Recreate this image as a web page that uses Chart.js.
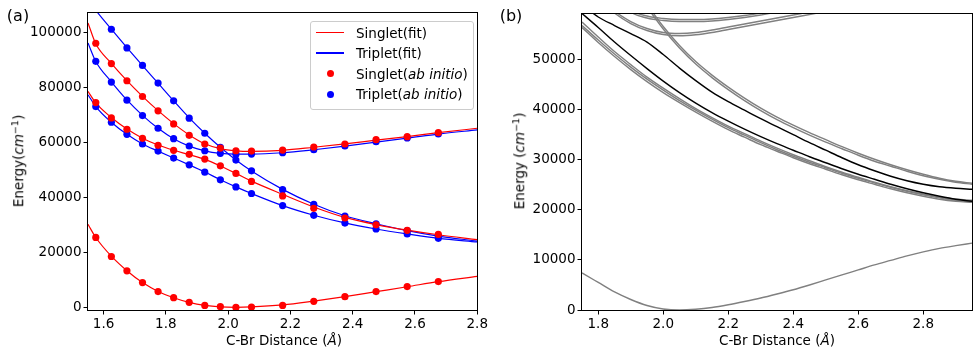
<!DOCTYPE html>
<html>
<head>
<meta charset="utf-8">
<script src="https://cdn.jsdelivr.net/npm/chart.js@4.4.0/dist/chart.umd.min.js"></script>
<style>
  body { margin:0; background:#fff; font-family:'DejaVu Sans', sans-serif; color:#000; }
  #wrap { position:relative; width:974px; height:350px; overflow:hidden; }
  .panel { position:absolute; top:0; height:350px; }
  .lbl { position:absolute; font-size:13.5px; line-height:1; white-space:nowrap; transform:translate(-50%,-50%); }
  .rot { transform:translate(-50%,-50%) rotate(-90deg); }
  .tag { font-size:16px; }
  sup { font-size:9.5px; vertical-align:5px; }
  #legend { position:absolute; left:310px; top:21px; width:162px; height:87px; border:1px solid #ccc; border-radius:3px; background:rgba(255,255,255,0.8); }
  .row { position:absolute; left:0; height:16px; width:100%; font-size:13.5px; line-height:16px; }
  .row .sw { position:absolute; left:5px; top:7px; width:28px; height:1.5px; }
  .row .dot { position:absolute; left:16px; top:4.5px; width:7px; height:7px; border-radius:50%; }
  .row .txt { position:absolute; left:45px; top:0; }
</style>
</head>
<body>
<div id="wrap">
  <div class="panel" style="left:0;width:490px"><canvas id="chart-a"></canvas></div>
  <div class="panel" style="left:490px;width:484px"><canvas id="chart-b"></canvas></div>

  <div class="lbl tag" style="left:18px;top:16px">(a)</div>
  <div class="lbl tag" style="left:511px;top:16px">(b)</div>
  <div class="lbl rot" style="left:18px;top:161px">Energy(<i>cm</i><sup>−1</sup>)</div>
  <div class="lbl rot" style="left:519px;top:161px">Energy (<i>cm</i><sup>−1</sup>)</div>
  <div class="lbl" style="left:284px;top:341px">C-Br Distance (<i>Å</i>)</div>
  <div class="lbl" style="left:777px;top:341px">C-Br Distance (<i>Å</i>)</div>

  <div id="legend">
    <div class="row" style="top:2.7px"><span class="sw" style="background:#ff0000"></span><span class="txt">Singlet(fit)</span></div>
    <div class="row" style="top:23.3px"><span class="sw" style="background:#0000ff"></span><span class="txt">Triplet(fit)</span></div>
    <div class="row" style="top:43.7px"><span class="dot" style="background:#ff0000"></span><span class="txt">Singlet(<i>ab initio</i>)</span></div>
    <div class="row" style="top:64.3px"><span class="dot" style="background:#0000ff"></span><span class="txt">Triplet(<i>ab initio</i>)</span></div>
  </div>
</div>

<script>
// ---- panel (a): fitted curves and ab initio points ----
const A_X     = [1.575,1.625,1.675,1.725,1.775,1.825,1.875,1.925,1.975,2.025,2.075,2.175,2.275,2.375,2.475,2.575,2.675];
const FIT_X   = [1.55,1.575,1.625,1.675,1.725,1.775,1.825,1.875,1.925,1.975,2.025,2.075,2.175,2.275,2.375,2.475,2.575,2.675,2.8];

const S0_DOTS = [25440,18500,13280,9010,5730,3540,1830,730,260,0,100,730,2190,3900,5730,7550,9380];
const S1_DOTS = [74450,68870,64740,61460,58900,57080,55620,53900,51460,48680,45770,40510,36020,32480,30000,28000,26530];
const S2_DOTS = [96000,88600,82370,76650,71450,66680,62550,59380,57900,56940,56830,57190,58290,59380,60950,62050,63500];
const T1_DOTS = [72990,67300,62920,59380,56830,54270,51830,49160,46350,43800,41390,37010,33470,30660,28500,26700,25100];
const T2_DOTS = [null,101100,94300,87960,81530,75080,68760,63290,58170,53540,49640,42800,37480,33210,30400,27900,25900];
const T3_DOTS = [89420,81900,75330,69710,65110,61320,58650,56940,55990,55700,55730,56210,57300,58650,60220,61570,63030];

const S0_FIT = [30200,25400,18600,13300,9000,5800,3500,1800,700,150,0,150,900,2300,3900,5700,7500,9350,11300];
const S1_FIT = [78500,74300,69000,64800,61500,59000,57100,55500,53800,51400,48700,45900,41100,36500,32700,30100,28100,26400,24600];
const S2_FIT = [103400,95800,88700,82400,76700,71500,66800,62700,59500,57700,56900,56700,57100,58200,59400,60800,62100,63500,65100];
const T1_FIT = [77300,73000,67300,62900,59400,56800,54300,51800,49200,46400,43800,41400,37000,33500,30700,28500,26700,25100,23800];
const T2_FIT = [112000,108000,101100,94400,87900,81500,75100,68900,63300,58200,53600,49600,42900,37500,33300,30400,27900,25900,24100];
const T3_FIT = [96100,89400,82000,75400,69800,65100,61300,58600,56900,56000,55700,55700,56200,57300,58600,60100,61500,63000,64500];

const A_X_TICKS = [1.6,1.8,2.0,2.2,2.4,2.6,2.8];
const A_Y_TICKS = [0,20000,40000,60000,80000,100000];

// ---- panel (b): coupled curves ----
const B_X = [1.75,1.80,1.85,1.90,1.95,2.00,2.05,2.10,2.15,2.20,2.25,2.30,2.35,2.40,2.45,2.50,2.55,2.60,2.65,2.70,2.75,2.80,2.85,2.90,2.95];

const B_GROUND = [7400,5500,3600,2100,900,200,0,150,500,1050,1700,2400,3200,4050,5000,6000,7000,8000,9000,9900,10800,11600,12300,12850,13350];
const B_BLACK1 = [59200,56400,53500,50800,48200,45700,43400,41300,39400,37700,36100,34600,33200,31900,30600,29400,28200,27100,26100,25100,24200,23400,22700,22100,21700];
const B_BLACK2 = [61000,58500,56800,55200,53500,51000,48300,45800,43500,41600,39900,38200,36600,35000,33400,31900,30400,29000,27800,26700,25800,25100,24600,24300,24100];
const B_GRAY1  = [57500,54500,51600,49000,46500,44300,42200,40200,38400,36700,35200,33700,32300,31000,29800,28600,27500,26500,25500,24600,23800,23100,22500,22100,21900];
const B_GRAY2  = [56800,53900,51100,48500,46100,43900,41800,39900,38100,36400,34900,33400,32000,30700,29500,28400,27300,26300,25400,24500,23700,23000,22400,21900,21700];
const B_GRAY3  = [56400,53400,50600,48000,45600,43400,41400,39500,37700,36000,34500,33000,31700,30400,29200,28100,27000,26000,25100,24200,23400,22700,22100,21700,21500];
const B_STEEP1 = [null,null,null,65500,61000,56600,52800,49600,46900,44500,42300,40300,38500,36900,35400,34000,32600,31300,30100,29000,28000,27100,26300,25700,25300];
const B_STEEP2 = [null,null,null,65000,60500,56100,52300,49100,46400,44000,41800,39800,38000,36400,34900,33500,32200,30900,29700,28700,27700,26800,26100,25500,25100];
const B_LOW1   = [66400,62700,59700,57600,56200,55400,55200,55400,55900,56500,57100,57700,58300,58900,59500,60100,null,null,null,null,null,null,null,null,null];
const B_LOW2   = [66000,62300,59300,57200,55800,55000,54750,54950,55400,56000,56600,57200,57800,58400,59000,59600,null,null,null,null,null,null,null,null,null];
const B_UP1    = [null,null,63500,59900,58700,58200,58000,58000,58100,58400,58800,59300,59900,null,null,null,null,null,null,null,null,null,null,null,null];
const B_UP2    = [null,null,63000,59500,58300,57800,57600,57600,57700,58000,58400,58900,59500,null,null,null,null,null,null,null,null,null,null,null,null];

const B_X_TICKS = [1.8,2.0,2.2,2.4,2.6,2.8];
const B_Y_TICKS = [0,10000,20000,30000,40000,50000];

const RED  = '#ff0000';
const BLUE = '#0000ff';
const GRAY = '#808080';
const FONT = { family: "'DejaVu Sans', sans-serif", size: 13.5 };

const pts = (xs, ys) => xs.map((x, i) => ({ x, y: ys[i] }));

const framePlugin = {
  id: 'frame',
  afterDatasetsDraw(chart) {
    const { ctx, chartArea: a } = chart;
    ctx.save();
    ctx.strokeStyle = '#000';
    ctx.lineWidth = 1;
    ctx.strokeRect(Math.round(a.left) - 0.5, Math.round(a.top) - 0.5,
                   Math.round(a.right - a.left) + 1, Math.round(a.bottom - a.top) + 1);
    ctx.restore();
  }
};

function fitLine(ys, color) {
  return { data: pts(FIT_X, ys), borderColor: color, borderWidth: 1.2, pointRadius: 0,
           cubicInterpolationMode: 'monotone', order: 2 };
}
function dots(ys, color) {
  return { data: pts(A_X, ys), showLine: false, pointRadius: 3.6, pointBorderWidth: 0,
           pointBackgroundColor: color, borderColor: color, order: 1 };
}
function curve(ys, color) {
  return { data: pts(B_X, ys), borderColor: color, borderWidth: 1.4, pointRadius: 0,
           cubicInterpolationMode: 'monotone' };
}

function axes(xr, yr, xTicks, yTicks, yWidth) {
  const tickGrid = { display: true, drawOnChartArea: false, drawTicks: true, tickLength: 4.5, color: '#000' };
  return {
    x: {
      type: 'linear', min: xr[0], max: xr[1],
      afterBuildTicks: s => { s.ticks = xTicks.map(v => ({ value: v })); },
      afterFit: s => { s.height = 40; },
      ticks: { color: '#000', font: FONT, padding: 2, maxRotation: 0, callback: v => v.toFixed(1) },
      grid: tickGrid, border: { display: false },
    },
    y: {
      min: yr[0], max: yr[1],
      afterBuildTicks: s => { s.ticks = yTicks.map(v => ({ value: v })); },
      afterFit: s => { s.width = yWidth; },
      ticks: { color: '#000', font: FONT, padding: 2, callback: v => String(v) },
      grid: tickGrid, border: { display: false },
    },
  };
}

const base = {
  responsive: true, maintainAspectRatio: false, animation: false,
  plugins: { legend: { display: false }, tooltip: { enabled: false } },
};

new Chart(document.getElementById('chart-a'), {
  type: 'line',
  data: {
    datasets: [
      dots(S0_DOTS, RED), dots(S1_DOTS, RED), dots(S2_DOTS, RED),
      dots(T1_DOTS, BLUE), dots(T2_DOTS, BLUE), dots(T3_DOTS, BLUE),
      fitLine(S0_FIT, RED), fitLine(S1_FIT, RED), fitLine(S2_FIT, RED),
      fitLine(T1_FIT, BLUE), fitLine(T2_FIT, BLUE), fitLine(T3_FIT, BLUE),
    ],
  },
  options: { ...base,
    layout: { padding: { top: 13, right: 10, left: 0, bottom: 0 } },
    scales: axes([1.55, 2.8], [-950, 107000], A_X_TICKS, A_Y_TICKS, 88),
  },
  plugins: [framePlugin],
});

new Chart(document.getElementById('chart-b'), {
  type: 'line',
  data: {
    datasets: [
      curve(B_BLACK1, '#000'), curve(B_BLACK2, '#000'),
      curve(B_GROUND, GRAY),
      curve(B_GRAY1, GRAY), curve(B_GRAY2, GRAY), curve(B_GRAY3, GRAY),
      curve(B_STEEP1, GRAY), curve(B_STEEP2, GRAY),
      curve(B_LOW1, GRAY), curve(B_LOW2, GRAY),
      curve(B_UP1, GRAY), curve(B_UP2, GRAY),
    ],
  },
  options: { ...base,
    layout: { padding: { top: 14, right: 2, left: 0, bottom: 0 } },
    scales: axes([1.75, 2.95], [0, 59100], B_X_TICKS, B_Y_TICKS, 92),
  },
  plugins: [framePlugin],
});
</script>
</body>
</html>
